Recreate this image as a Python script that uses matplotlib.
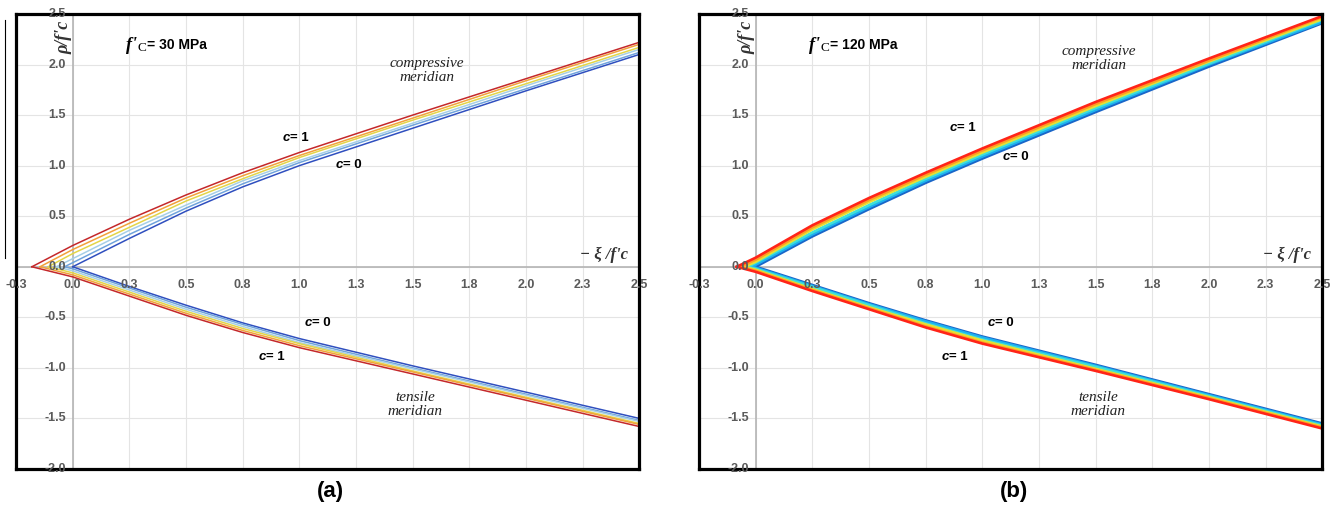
import matplotlib
matplotlib.use("Agg")
import matplotlib.pyplot as plt
from matplotlib.lines import Line2D

# x values of the read points (apex of each curve is added in front)
xi = [0, 0.25, 0.5, 0.75, 1.0, 1.5, 2.0, 2.5]
c_values = [0, 0.2, 0.4, 0.6, 0.8, 1.0]

# f'c = 30 MPa
apex_30 = [0, -0.036, -0.072, -0.108, -0.144, -0.18]
comp_30 = [
    [0.00, 0.28, 0.55, 0.79, 1.00, 1.37, 1.74, 2.10],
    [0.04, 0.32, 0.58, 0.82, 1.03, 1.40, 1.76, 2.12],
    [0.08, 0.36, 0.61, 0.85, 1.05, 1.42, 1.79, 2.15],
    [0.13, 0.39, 0.65, 0.87, 1.08, 1.45, 1.81, 2.17],
    [0.17, 0.43, 0.68, 0.90, 1.10, 1.47, 1.84, 2.20],
    [0.21, 0.47, 0.71, 0.93, 1.13, 1.50, 1.86, 2.22],
]
tens_30 = [
    [0.00, -0.195, -0.38, -0.555, -0.71, -0.98, -1.24, -1.50],
    [-0.02, -0.21, -0.40, -0.57, -0.73, -1.00, -1.26, -1.52],
    [-0.04, -0.23, -0.42, -0.59, -0.75, -1.01, -1.27, -1.53],
    [-0.06, -0.25, -0.44, -0.61, -0.76, -1.03, -1.29, -1.55],
    [-0.08, -0.27, -0.46, -0.63, -0.78, -1.04, -1.30, -1.56],
    [-0.10, -0.29, -0.48, -0.65, -0.80, -1.06, -1.32, -1.58],
]

# f'c = 120 MPa
apex_120 = [0, -0.017, -0.034, -0.050, -0.067, -0.084]
comp_120 = [
    [0.00, 0.30, 0.57, 0.83, 1.07, 1.53, 1.98, 2.41],
    [0.02, 0.32, 0.59, 0.85, 1.09, 1.55, 2.00, 2.42],
    [0.04, 0.34, 0.61, 0.87, 1.11, 1.57, 2.01, 2.44],
    [0.05, 0.37, 0.64, 0.89, 1.13, 1.59, 2.03, 2.45],
    [0.07, 0.39, 0.66, 0.91, 1.15, 1.61, 2.04, 2.47],
    [0.09, 0.41, 0.68, 0.93, 1.17, 1.63, 2.06, 2.48],
]
tens_120 = [
    [0.00, -0.18, -0.36, -0.53, -0.69, -0.97, -1.26, -1.55],
    [-0.01, -0.19, -0.37, -0.54, -0.70, -0.98, -1.27, -1.56],
    [-0.02, -0.20, -0.38, -0.56, -0.72, -0.99, -1.28, -1.57],
    [-0.03, -0.22, -0.40, -0.57, -0.73, -1.01, -1.29, -1.58],
    [-0.04, -0.23, -0.41, -0.59, -0.75, -1.02, -1.30, -1.59],
    [-0.05, -0.24, -0.42, -0.60, -0.76, -1.03, -1.31, -1.60],
]

xticks = [-0.25, 0, 0.25, 0.5, 0.75, 1.0, 1.25, 1.5, 1.75, 2.0, 2.25, 2.5]
xtick_labels = ["-0.3", "0.0", "0.3", "0.5", "0.8", "1.0", "1.3", "1.5", "1.8", "2.0", "2.3", "2.5"]
yticks = [-2.0, -1.5, -1.0, -0.5, 0.0, 0.5, 1.0, 1.5, 2.0, 2.5]
ytick_labels = ["-2.0", "-1.5", "-1.0", "-0.5", "0.0", "0.5", "1.0", "1.5", "2.0", "2.5"]

colors_30 = ["#2f4fbf", "#6fa3dc", "#a6cfe6", "#e3d548", "#f2a13a", "#c4282a"]
colors_120 = ["#1a66c8", "#1cb0f0", "#3fe0d8", "#e6e032", "#ff9c22", "#ff2418"]

panels = [
    ("(a)", "30", apex_30, comp_30, tens_30, colors_30, 1.1, (1.563, 1.945), (0.963, 1.27), (1.197, 1.006)),
    ("(b)", "120", apex_120, comp_120, tens_120, colors_120, 1.9, (1.515, 2.064), (0.892, 1.372), (1.126, 1.085)),
]

fig = plt.figure(figsize=(13.44, 5.12), dpi=100)
lefts = [16 / 1344, 699 / 1344]

sans = "Liberation Sans"
serif = "Liberation Serif"


def c_label(ax, x, y, val):
    ax.text(x - 0.005, y, "c", ha="right", va="center", fontsize=9.5, style="italic",
            fontweight="bold", family=sans, zorder=6)
    ax.text(x - 0.005, y, "= " + val, ha="left", va="center", fontsize=9.5,
            fontweight="bold", family=sans, zorder=6)


for left, (tag, fc, apex, comp, tens, cols, lw, comp_pos, c1_pos, c0_pos) in zip(lefts, panels):
    ax = fig.add_axes([left, 0.084, 0.4638, 0.8887])
    ax.set_xlim(-0.25, 2.5)
    ax.set_ylim(-2.0, 2.5)
    ax.set_xticks([])
    ax.set_yticks([])
    for s in ax.spines.values():
        s.set_linewidth(2.3)
        s.set_color("black")
        s.set_zorder(5)

    for xv in xticks:
        ax.axvline(xv, color="#e4e4e4", lw=0.8, zorder=0)
    for yv in yticks:
        ax.axhline(yv, color="#e4e4e4", lw=0.8, zorder=0)
    ax.axhline(0, color="#b4b4b4", lw=1.2, zorder=1)
    ax.axvline(0, color="#b4b4b4", lw=1.2, zorder=1)

    for xv, lab in zip(xticks, xtick_labels):
        ax.text(xv, -0.18, lab, ha="center", va="center", fontsize=9,
                fontweight="bold", color="#5a5a5a", family=sans, zorder=6)
    for yv, lab in zip(yticks, ytick_labels):
        ax.text(-0.03, yv, lab, ha="right", va="center", fontsize=9,
                fontweight="bold", color="#5a5a5a", family=sans, zorder=6)

    for i in range(len(c_values)):
        ax.plot([apex[i]] + xi, [0] + comp[i], color=cols[i], lw=lw, zorder=3,
                solid_joinstyle="round")
        ax.plot([apex[i]] + xi, [0] + tens[i], color=cols[i], lw=lw, zorder=3,
                solid_joinstyle="round")

    ax.text(-0.04, 2.27, "ρ/f'c", rotation=90, ha="center", va="center",
            fontsize=13, style="italic", fontweight="bold", family=serif,
            color="#333333", zorder=6)
    ax.text(0.235, 2.19, "f'", ha="left", va="center", fontsize=13, style="italic",
            fontweight="bold", family=serif, zorder=6)
    ax.text(0.285, 2.165, "C", ha="left", va="center", fontsize=9.5,
            family=serif, zorder=6)
    ax.text(0.33, 2.19, "= " + fc + " MPa", ha="left", va="center", fontsize=10,
            fontweight="bold", family=sans, zorder=6)
    ax.text(2.345, 0.12, "− ξ /f'c", ha="center", va="center", fontsize=12,
            style="italic", fontweight="bold", family=serif, color="#333333", zorder=6)
    ax.text(comp_pos[0], comp_pos[1], "compressive\nmeridian", ha="center", va="center",
            fontsize=11, style="italic", family=serif, color="#222222",
            linespacing=1.1, zorder=6)
    ax.text(1.51, -1.36, "tensile\nmeridian", ha="center", va="center",
            fontsize=11, style="italic", family=serif, color="#222222",
            linespacing=1.1, zorder=6)

    for (px, py), lab in [(c1_pos, "1"), (c0_pos, "0"), ((1.062, -0.557), "0"), ((0.857, -0.893), "1")]:
        c_label(ax, px, py, lab)

    fig.text(left + 0.4638 * 0.505, 0.04, tag, ha="center", va="center",
             fontsize=16, fontweight="bold", family=sans)

# stray vertical rule at the far left of the source image
fig.add_artist(Line2D([5 / 1344, 5 / 1344], [1 - 20 / 512, 1 - 258 / 512], color="black", lw=0.8))

fig.savefig("out.png", dpi=100, facecolor="white")
